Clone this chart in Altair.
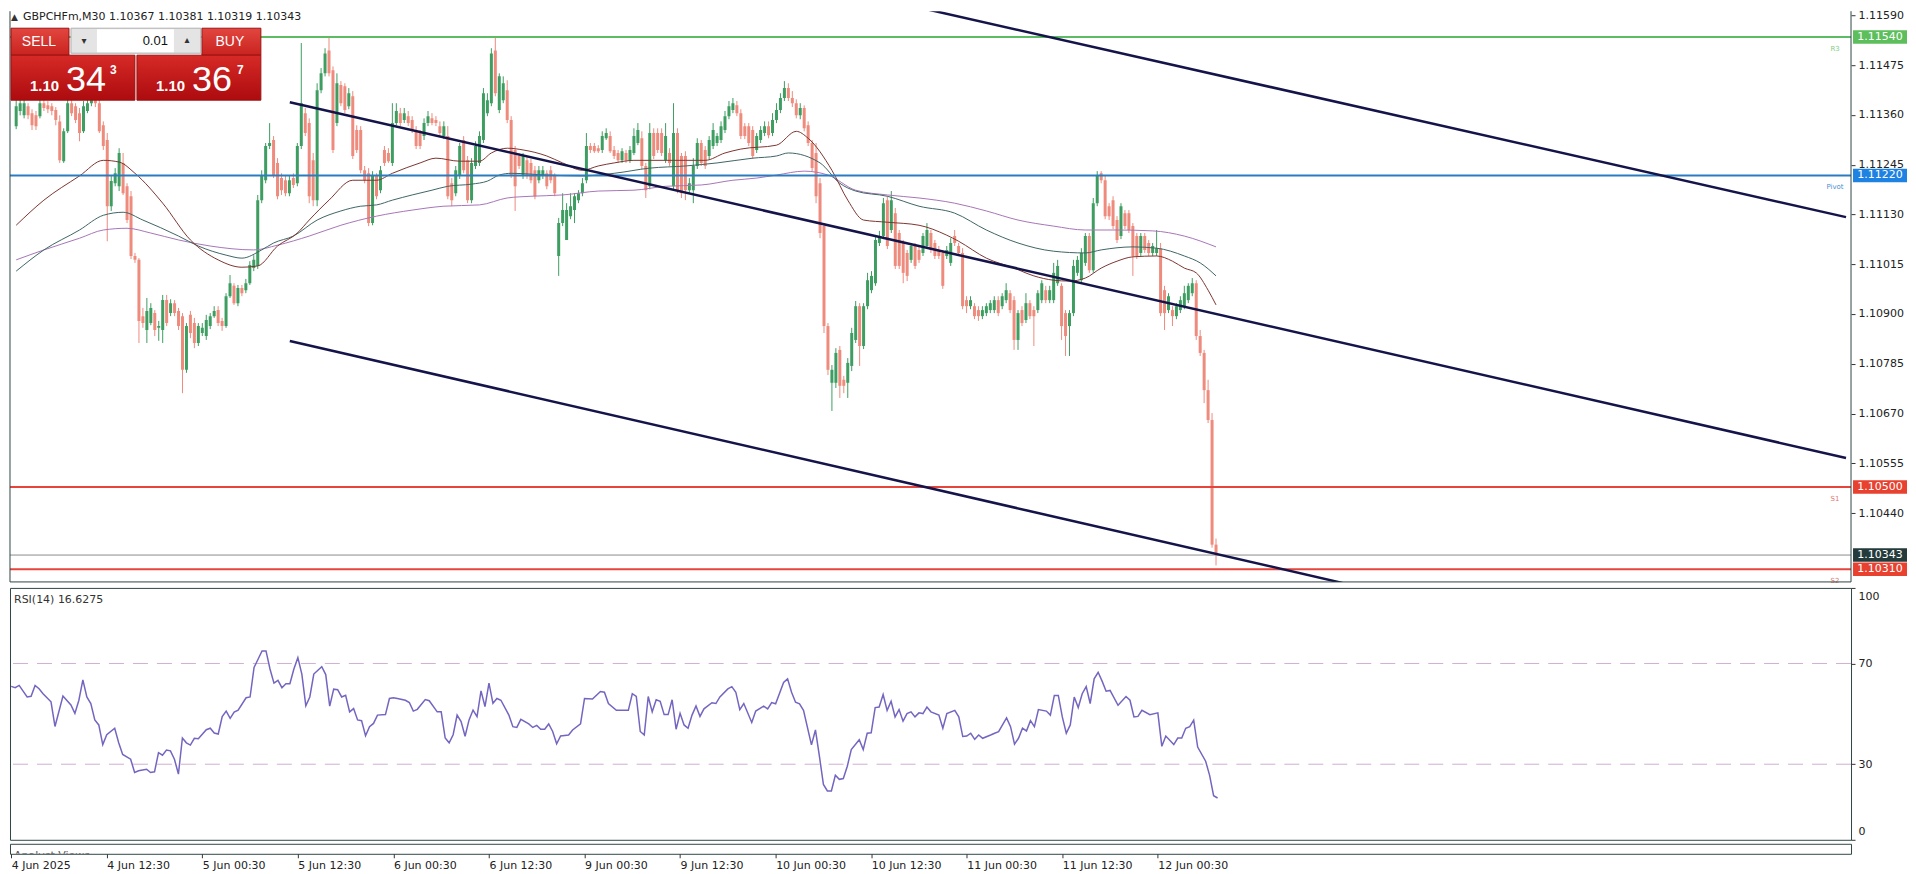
import altair as alt
import pandas as pd

# ---------------- DATA (prices in points, 1 point = 0.00001) ----------------
open_pts = [
    111334, 111369, 111359, 111380, 111364, 111359, 111357, 111387, 111382, 111380,
    111371, 111345, 111253, 111322, 111387, 111380, 111364, 111322, 111369, 111387,
    111406, 111387, 111336, 111302, 111149, 111202, 111195, 111249, 111195, 111172,
    111034, 111025, 110895, 110863, 110879, 110902, 110868, 110863, 110932, 110902,
    110925, 110907, 110895, 110771, 110898, 110879, 110833, 110856, 110849, 110872,
    110895, 110909, 110884, 110872, 110941, 110965, 110925, 110960, 110955, 110971,
    111006, 111011, 111163, 111209, 111288, 111302, 111249, 111214, 111209, 111179,
    111214, 111202, 111288, 111364, 111341, 111255, 111163, 111417, 111456, 111509,
    111463, 111341, 111429, 111426, 111380, 111403, 111325, 111325, 111232, 111225,
    111110, 111219, 111186, 111279, 111272, 111249, 111341, 111364, 111348, 111357,
    111348, 111325, 111318, 111311, 111341, 111352, 111348, 111334, 111311, 111311,
    111202, 111179, 111219, 111302, 111255, 111163, 111242, 111249, 111302, 111364,
    111387, 111509, 111371, 111394, 111417, 111348, 111279, 111265, 111219, 111255,
    111249, 111232, 111209, 111219, 111225, 111232, 111219, 111034, 111110, 111071,
    111126, 111140, 111163, 111179, 111209, 111288, 111288, 111283, 111279, 111306,
    111311, 111279, 111272, 111255, 111272, 111255, 111272, 111295, 111306, 111242,
    111195, 111318, 111318, 111318, 111255, 111272, 111195, 111318, 111265, 111265,
    111186, 111186, 111242, 111295, 111279, 111265, 111288, 111295, 111302, 111325,
    111357, 111371, 111382, 111364, 111334, 111334, 111325, 111279, 111302, 111318,
    111334, 111318, 111348, 111371, 111399, 111422, 111399, 111387, 111359, 111376,
    111336, 111295, 111272, 111202, 111103, 110872, 110741, 110741, 110817, 110748,
    110741, 110780, 110840, 110918, 110826, 110918, 110955, 110971, 111064, 111080,
    111163, 111094, 111133, 111087, 111064, 111041, 111025, 111057, 111048, 111041,
    111057, 111087, 111064, 111048, 111041, 111034, 111018, 111080, 111057, 111041,
    110932, 110918, 110918, 110909, 110895, 110902, 110909, 110909, 110932, 110918,
    110932, 110948, 110932, 110840, 110909, 110886, 110925, 110909, 110909, 110932,
    110955, 110932, 110932, 110971, 110965, 110902, 110872, 110902, 110995, 110978,
    111018, 111080, 111001, 111156, 111225, 111209, 111149, 111163, 111117, 111080,
    111133, 111133, 111103, 111080, 111041, 111080, 111064, 111041, 111041, 111052,
    110955, 110909, 110909, 110895, 110909, 110918, 110932, 110948, 110971, 110849,
    110810, 110724, 110655, 110367,
]
close_pts = [
    111380, 111387, 111387, 111359, 111336, 111334, 111387, 111376, 111373, 111369,
    111348, 111255, 111322, 111387, 111364, 111348, 111318, 111380, 111387, 111406,
    111387, 111322, 111288, 111149, 111207, 111225, 111272, 111179, 111117, 111034,
    111025, 110884, 110879, 110907, 110914, 110863, 110872, 110932, 110879, 110925,
    110902, 110872, 110771, 110872, 110856, 110833, 110872, 110868, 110886, 110895,
    110907, 110879, 110872, 110941, 110971, 110925, 110960, 110948, 110971, 111013,
    111025, 111163, 111219, 111288, 111295, 111219, 111172, 111186, 111179, 111209,
    111198, 111288, 111387, 111318, 111172, 111163, 111417, 111456, 111502, 111456,
    111279, 111433, 111387, 111371, 111410, 111265, 111279, 111232, 111209, 111110,
    111219, 111172, 111232, 111249, 111253, 111341, 111369, 111341, 111364, 111341,
    111325, 111288, 111288, 111341, 111357, 111341, 111341, 111318, 111334, 111172,
    111163, 111232, 111288, 111232, 111163, 111249, 111288, 111311, 111410, 111394,
    111502, 111410, 111449, 111433, 111348, 111219, 111195, 111242, 111265, 111219,
    111209, 111172, 111232, 111232, 111195, 111209, 111179, 111110, 111140, 111140,
    111149, 111172, 111179, 111202, 111288, 111279, 111276, 111276, 111311, 111318,
    111276, 111265, 111255, 111276, 111255, 111279, 111311, 111325, 111242, 111186,
    111318, 111265, 111279, 111272, 111311, 111249, 111318, 111186, 111179, 111186,
    111202, 111242, 111295, 111249, 111242, 111302, 111325, 111311, 111334, 111357,
    111380, 111387, 111364, 111311, 111311, 111295, 111265, 111311, 111325, 111334,
    111313, 111348, 111371, 111399, 111422, 111399, 111387, 111359, 111376, 111329,
    111295, 111237, 111172, 111087, 110872, 110771, 110771, 110810, 110734, 110734,
    110787, 110856, 110918, 110826, 110918, 110978, 110988, 111071, 111080, 111156,
    111057, 111163, 111011, 111011, 110995, 110988, 111057, 111011, 111025, 111080,
    111094, 111048, 111034, 111034, 110965, 111048, 111064, 111064, 111041, 110918,
    110918, 110932, 110895, 110895, 110909, 110918, 110925, 110932, 110902, 110941,
    110955, 110909, 110840, 110902, 110879, 110925, 110895, 110895, 110948, 110971,
    110932, 110955, 110995, 111011, 110872, 110849, 110902, 111011, 111025, 111041,
    111080, 111001, 111156, 111219, 111209, 111126, 111126, 111103, 111071, 111149,
    111103, 111094, 111034, 111034, 111080, 111048, 111041, 111057, 111052, 110902,
    110902, 110941, 110895, 110918, 110932, 110948, 110965, 110971, 110849, 110810,
    110724, 110655, 110367, 110343,
]
high_pts = [
    111399, 111399, 111396, 111387, 111373, 111369, 111396, 111396, 111392, 111387,
    111378, 111359, 111329, 111396, 111396, 111387, 111376, 111392, 111399, 111419,
    111415, 111399, 111345, 111318, 111221, 111237, 111283, 111272, 111202, 111184,
    111041, 111029, 110914, 110937, 110925, 110909, 110884, 110944, 110944, 110934,
    110932, 110914, 110902, 110879, 110907, 110891, 110879, 110879, 110898, 110902,
    110918, 110918, 110891, 110948, 110990, 110971, 110967, 110967, 110981, 111022,
    111036, 111175, 111232, 111295, 111341, 111311, 111260, 111225, 111219, 111219,
    111225, 111295, 111526, 111376, 111352, 111272, 111433, 111468, 111514, 111542,
    111472, 111456, 111438, 111433, 111422, 111415, 111336, 111334, 111242, 111237,
    111230, 111225, 111242, 111288, 111283, 111387, 111387, 111376, 111376, 111369,
    111357, 111334, 111325, 111352, 111369, 111364, 111357, 111345, 111345, 111334,
    111214, 111242, 111295, 111311, 111265, 111260, 111299, 111322, 111422, 111410,
    111514, 111542, 111456, 111449, 111440, 111357, 111288, 111272, 111272, 111265,
    111258, 111242, 111242, 111242, 111232, 111242, 111225, 111122, 111179, 111156,
    111179, 111179, 111186, 111214, 111318, 111295, 111295, 111290, 111322, 111329,
    111322, 111288, 111279, 111283, 111279, 111288, 111329, 111341, 111322, 111249,
    111341, 111329, 111329, 111329, 111341, 111283, 111387, 111329, 111272, 111276,
    111214, 111260, 111306, 111302, 111288, 111311, 111341, 111318, 111345, 111369,
    111392, 111399, 111392, 111373, 111341, 111341, 111334, 111318, 111334, 111345,
    111345, 111364, 111387, 111410, 111438, 111433, 111415, 111396, 111387, 111382,
    111345, 111302, 111295, 111214, 111110, 110879, 110782, 110821, 110826, 110757,
    110798, 110868, 110930, 110925, 110925, 110995, 110999, 111082, 111092, 111168,
    111172, 111184, 111145, 111094, 111071, 111048, 111064, 111064, 111057, 111087,
    111110, 111094, 111071, 111057, 111048, 111057, 111075, 111094, 111064, 111052,
    110941, 110941, 110925, 110918, 110918, 110925, 110932, 110941, 110941, 110948,
    110971, 110955, 110941, 110909, 110918, 110948, 110932, 110918, 110955, 110978,
    110965, 110965, 111018, 111025, 110971, 110909, 110909, 111025, 111034, 111052,
    111087, 111087, 111168, 111230, 111230, 111219, 111156, 111172, 111126, 111156,
    111140, 111140, 111110, 111087, 111087, 111087, 111071, 111064, 111094, 111064,
    110965, 110948, 110918, 110925, 110941, 110965, 110971, 110983, 110978, 110863,
    110817, 110748, 110671, 110381,
]
low_pts = [
    111327, 111359, 111352, 111350, 111325, 111325, 111352, 111369, 111364, 111359,
    111336, 111249, 111249, 111318, 111357, 111341, 111299, 111318, 111364, 111380,
    111378, 111318, 111279, 111068, 111138, 111195, 111184, 111175, 111110, 111027,
    111018, 110833, 110868, 110833, 110874, 110849, 110838, 110833, 110872, 110895,
    110895, 110863, 110717, 110764, 110844, 110821, 110826, 110849, 110840, 110865,
    110891, 110872, 110861, 110868, 110937, 110921, 110918, 110941, 110948, 110967,
    110999, 111004, 111156, 111202, 111281, 111214, 111165, 111175, 111172, 111172,
    111191, 111195, 111281, 111311, 111156, 111149, 111149, 111410, 111449, 111449,
    111272, 111334, 111380, 111364, 111373, 111258, 111272, 111225, 111202, 111103,
    111105, 111165, 111179, 111242, 111249, 111242, 111336, 111334, 111341, 111334,
    111318, 111281, 111281, 111302, 111334, 111336, 111334, 111311, 111304, 111165,
    111149, 111172, 111212, 111225, 111156, 111156, 111235, 111242, 111295, 111357,
    111380, 111403, 111364, 111387, 111341, 111214, 111138, 111235, 111212, 111212,
    111202, 111165, 111202, 111212, 111188, 111202, 111172, 110988, 111103, 111071,
    111119, 111110, 111156, 111172, 111202, 111272, 111272, 111272, 111272, 111302,
    111272, 111258, 111249, 111249, 111249, 111249, 111267, 111290, 111235, 111168,
    111188, 111258, 111272, 111265, 111249, 111242, 111188, 111179, 111168, 111163,
    111179, 111156, 111235, 111242, 111235, 111258, 111281, 111288, 111295, 111318,
    111350, 111364, 111357, 111304, 111304, 111288, 111258, 111272, 111295, 111311,
    111306, 111311, 111341, 111364, 111392, 111392, 111378, 111352, 111350, 111322,
    111288, 111230, 111156, 111075, 110856, 110759, 110676, 110729, 110706, 110717,
    110706, 110768, 110833, 110780, 110819, 110911, 110948, 110965, 111057, 111073,
    111050, 111087, 111004, 111004, 110971, 110976, 111018, 111004, 111018, 111034,
    111050, 111041, 111027, 111027, 110958, 111027, 111011, 111057, 111034, 110911,
    110902, 110911, 110888, 110884, 110888, 110895, 110902, 110902, 110895, 110911,
    110925, 110902, 110817, 110817, 110872, 110879, 110888, 110826, 110902, 110925,
    110925, 110925, 110925, 110965, 110840, 110803, 110803, 110895, 110988, 110971,
    111011, 110995, 110995, 111149, 111202, 111119, 111117, 111096, 111064, 111073,
    111096, 111087, 110988, 111027, 111034, 111041, 111034, 111034, 111034, 110895,
    110863, 110902, 110872, 110888, 110902, 110911, 110925, 110941, 110840, 110803,
    110694, 110648, 110360, 110319,
]

# moving averages (bar index, value in points)
ma_fast_bar = [0, 7, 16, 22, 26, 30, 37, 44, 51, 57, 61, 66, 71, 74, 79, 85, 91, 95, 102, 106,
               112, 117, 120, 124, 128, 134, 138, 143, 147, 151, 156, 169, 174, 179, 183, 192, 197, 200, 206, 210,
               214, 220, 228, 235, 238, 245, 252, 257, 262, 266, 270, 274, 278, 282, 288, 292, 295, 298, 301, 303]
ma_fast_pts = [111105, 111163, 111219, 111255, 111251, 111225, 111156, 111071, 111025, 111008,
               111011, 111057, 111087, 111117, 111163, 111209, 111209, 111225, 111249, 111260,
               111253, 111253, 111272, 111283, 111279, 111265, 111249, 111232, 111242, 111249,
               111255, 111255, 111255, 111272, 111281, 111290, 111322, 111306, 111232, 111163,
               111117, 111112, 111105, 111082, 111068, 111029, 111006, 110988, 110978, 110976,
               110983, 111006, 111022, 111032, 111034, 111022, 111006, 110995, 110955, 110921]
ma_mid_bar = [0, 7, 16, 22, 27, 32, 41, 46, 53, 57, 62, 65, 70, 76, 82, 87, 91, 95, 100, 105,
              109, 115, 119, 122, 125, 134, 143, 151, 160, 169, 177, 186, 192, 195, 203, 208, 212, 220, 228, 237,
              245, 253, 262, 270, 274, 282, 288, 295, 299, 303]
ma_mid_pts = [110999, 111048, 111094, 111128, 111135, 111117, 111080, 111057, 111036, 111029,
              111048, 111064, 111080, 111117, 111138, 111149, 111152, 111163, 111175, 111186,
              111195, 111200, 111207, 111221, 111225, 111221, 111219, 111225, 111237, 111242,
              111249, 111260, 111265, 111272, 111249, 111202, 111184, 111172, 111149, 111133,
              111094, 111064, 111045, 111041, 111048, 111055, 111052, 111034, 111018, 110988]
ma_slow_bar = [0, 7, 16, 22, 28, 34, 41, 49, 60, 66, 74, 82, 91, 100, 108, 117, 124, 130, 138, 147,
               156, 164, 173, 181, 187, 192, 199, 205, 212, 220, 228, 237, 245, 253, 262, 270, 278, 287, 295, 303]
ma_slow_pts = [111025, 111048, 111075, 111094, 111098, 111087, 111071, 111057, 111048, 111059,
               111080, 111105, 111126, 111140, 111149, 111152, 111168, 111172, 111175, 111184,
               111186, 111195, 111198, 111209, 111214, 111221, 111230, 111221, 111186, 111175,
               111168, 111156, 111138, 111117, 111103, 111094, 111094, 111092, 111080, 111055]

# RSI(14) readings (bar index, value)
rsi_bar = [0, 1, 2, 4, 5, 6, 7, 8, 10, 11,
           13, 15, 16, 17, 18, 19, 20, 21, 22, 23,
           24, 26, 27, 28, 30, 31, 32, 34, 35, 36,
           37, 38, 39, 40, 41, 42, 43, 44, 45, 46,
           47, 49, 50, 51, 52, 53, 54, 55, 56, 57,
           59, 60, 61, 62, 63, 64, 65, 66, 67, 68,
           69, 70, 71, 72, 73, 74, 75, 76, 78, 79,
           80, 81, 82, 83, 84, 85, 86, 87, 88, 89,
           90, 91, 92, 94, 95, 96, 97, 99, 100, 101,
           102, 104, 105, 107, 108, 109, 110, 111, 112, 113,
           114, 115, 116, 117, 118, 119, 120, 121, 122, 123,
           125, 126, 127, 128, 130, 131, 132, 133, 134, 135,
           136, 137, 138, 140, 141, 143, 144, 146, 148, 149,
           150, 152, 153, 155, 156, 157, 158, 159, 160, 161,
           162, 163, 164, 165, 166, 167, 168, 169, 170, 171,
           172, 173, 174, 176, 177, 178, 180, 181, 182, 183,
           184, 186, 187, 189, 190, 191, 192, 194, 195, 196,
           197, 198, 199, 201, 202, 203, 204, 205, 206, 207,
           208, 209, 210, 211, 213, 214, 215, 216, 217, 218,
           219, 220, 221, 222, 223, 224, 225, 226, 227, 228,
           229, 230, 231, 233, 234, 235, 237, 238, 239, 240,
           241, 242, 243, 244, 246, 247, 248, 250, 251, 252,
           253, 254, 255, 256, 257, 258, 260, 261, 262, 263,
           264, 265, 266, 267, 268, 269, 270, 271, 272, 273,
           274, 275, 276, 278, 280, 281, 282, 283, 284, 286,
           288, 289, 290, 292, 293, 294, 295, 296, 297, 298,
           300, 301, 302, 303]
rsi_val = [60.9, 60.4, 61.3, 56.7, 57.0, 61.3, 60.0, 58.0, 54.8, 45.0,
           57.1, 53.5, 50.2, 55.4, 63.5, 56.7, 54.1, 47.6, 45.6, 37.8,
           41.7, 44.3, 38.5, 33.9, 32.0, 26.7, 27.4, 28.0, 26.7, 27.0,
           34.6, 33.6, 35.6, 35.3, 32.0, 26.1, 40.4, 38.5, 37.6, 40.3,
           40.1, 43.7, 44.3, 42.4, 42.0, 48.9, 51.1, 48.2, 50.7, 51.5,
           56.4, 56.7, 68.4, 71.7, 75.0, 75.0, 67.8, 62.2, 63.3, 60.4,
           62.0, 62.0, 67.8, 72.3, 65.8, 53.2, 56.7, 65.8, 68.7, 65.6,
           53.1, 59.8, 59.6, 56.7, 57.4, 50.8, 52.1, 47.6, 47.3, 41.3,
           44.9, 46.2, 49.5, 49.7, 56.1, 56.4, 56.1, 55.4, 54.5, 51.1,
           51.8, 55.7, 55.2, 50.8, 50.8, 40.4, 38.5, 41.7, 49.5, 46.9,
           41.1, 47.6, 51.5, 48.9, 59.1, 52.9, 62.2, 54.2, 56.1, 55.4,
           49.5, 44.9, 44.6, 47.8, 46.0, 44.6, 45.4, 43.9, 43.9, 46.0,
           43.0, 38.1, 41.2, 41.6, 43.6, 46.0, 56.1, 55.9, 58.9, 58.6,
           54.1, 51.4, 51.4, 51.4, 58.0, 56.9, 43.0, 41.6, 56.9, 50.8,
           55.6, 55.0, 49.7, 49.7, 55.6, 43.9, 50.2, 45.6, 44.3, 49.5,
           53.1, 49.0, 52.0, 54.4, 54.1, 56.7, 59.9, 60.8, 58.6, 51.7,
           54.1, 46.6, 51.1, 53.1, 52.0, 54.5, 54.0, 62.5, 63.9, 58.6,
           54.6, 54.0, 51.4, 37.7, 43.6, 33.1, 22.0, 19.4, 19.4, 25.6,
           24.0, 24.3, 29.2, 35.8, 39.7, 35.8, 42.3, 42.5, 52.5, 52.7,
           57.7, 51.4, 55.0, 48.8, 51.7, 47.1, 50.1, 50.8, 48.8, 50.4,
           50.1, 52.7, 50.8, 49.5, 44.3, 50.1, 51.4, 48.8, 41.0, 41.2,
           42.3, 39.9, 41.6, 40.3, 41.6, 42.3, 42.9, 48.4, 44.9, 38.0,
           40.3, 44.3, 43.2, 47.3, 44.9, 51.7, 51.1, 49.5, 57.3, 57.3,
           48.8, 42.3, 45.6, 56.7, 52.5, 58.0, 60.8, 54.1, 63.9, 66.5,
           63.0, 59.0, 59.3, 53.4, 56.9, 55.4, 48.8, 49.0, 51.4, 49.7,
           50.4, 37.1, 41.2, 37.8, 40.4, 40.4, 44.3, 44.9, 47.5, 36.8,
           31.2, 25.6, 17.5, 16.6]
rsi_levels = [70, 30]

# pivot levels
level_names = ["R3", "Pivot", "S1", "S2"]
level_prices = [1.11540, 1.11220, 1.10500, 1.10310]
last_price = 1.10343

# trend channel lines (bar index, price)
trend_id = ["upper", "upper", "middle", "middle", "lower", "lower"]
trend_bar = [227.6, 462.1, 69.1, 462.1, 69.1, 334.9]
trend_price = [1.116088, 1.111238, 1.113894, 1.105673, 1.108375, 1.102786]

price_ticks = [1.11590, 1.11475, 1.11360, 1.11245, 1.11130, 1.11015,
               1.10900, 1.10785, 1.10670, 1.10555, 1.10440]
tick_bars = [0, 24, 48, 72, 96, 120, 144, 168, 192, 216, 240, 264, 288]
tick_labels = ["4 Jun 2025", "4 Jun 12:30", "5 Jun 00:30", "5 Jun 12:30", "6 Jun 00:30",
               "6 Jun 12:30", "9 Jun 00:30", "9 Jun 12:30", "10 Jun 00:30", "10 Jun 12:30",
               "11 Jun 00:30", "11 Jun 12:30", "12 Jun 00:30"]

# ---------------- STYLE / LAYOUT ----------------
FONT = "DejaVu Sans"
W = 1842
H_MAIN, H_RSI, H_MINI = 571, 252, 10
XS = alt.Scale(domain=[-0.3, 462.1], nice=False, zero=False)
PS = alt.Scale(domain=[1.102809, 1.115995], nice=False, zero=False)
RS = alt.Scale(domain=[0, 100], nice=False, zero=False)
GREEN, RED = "#3e9e61", "#ee8b7d"
FRAME = "#2f4545"

PAX = alt.Axis(orient="right", values=price_ticks, format=".5f", title=None, grid=False,
               domain=False, tickSize=4, tickColor="#333333", labelPadding=3,
               labelFont=FONT, labelFontSize=11, labelColor="#222222", labelOverlap=False)
RAX = alt.Axis(orient="right", values=[0, 30, 70, 100], title=None, grid=False, domain=False,
               tickSize=4, tickColor="#333333", labelPadding=3, labelFont=FONT, labelFontSize=11,
               labelColor="#222222", labelFlush=True, labelFlushOffset=-3, labelOverlap=False)
label_expr = " : ".join(f"datum.value == {b} ? '{t}'" for b, t in zip(tick_bars, tick_labels)) + " : ''"
XAX = alt.Axis(values=tick_bars, labelExpr=label_expr, title=None, grid=False, domain=False,
               tickSize=4, tickColor="#333333", labelAlign="left", labelPadding=2, labelFont=FONT,
               labelFontSize=11, labelColor="#222222", labelOverlap=False, labelFlush=False)


def px(f):
    return alt.X(f"{f}:Q", scale=XS, axis=None)


def py(f):
    return alt.Y(f"{f}:Q", scale=PS, axis=PAX)


dummy = pd.DataFrame({"k": [0]})


def ui_rect(x0, x1, y0, y1, **kw):
    return alt.Chart(dummy).mark_rect(**kw).encode(
        x=alt.value(x0), x2=alt.value(x1), y=alt.value(y0), y2=alt.value(y1))


def ui_text(x, y, s, **kw):
    return alt.Chart(dummy).mark_text(text=s, **kw).encode(x=alt.value(x), y=alt.value(y))


# ---------------- MAIN PRICE PANEL ----------------
candles = pd.DataFrame({
    "bar": list(range(len(close_pts))),
    "open": [v / 1e5 for v in open_pts],
    "high": [v / 1e5 for v in high_pts],
    "low": [v / 1e5 for v in low_pts],
    "close": [v / 1e5 for v in close_pts],
})
up = candles[candles["close"] >= candles["open"]]
down = candles[candles["close"] < candles["open"]]

layers = []
for d, col in ((up, GREEN), (down, RED)):
    layers.append(alt.Chart(d).mark_rule(strokeWidth=1, color=col, clip=True).encode(
        x=px("bar"), y=py("low"), y2="high:Q"))
    layers.append(alt.Chart(d).mark_bar(size=3, color=col, clip=True).encode(
        x=px("bar"), y=py("open"), y2="close:Q"))

for bars, pts, col in ((ma_slow_bar, ma_slow_pts, "#a775b8"),
                       (ma_mid_bar, ma_mid_pts, "#3f6464"),
                       (ma_fast_bar, ma_fast_pts, "#7d3530")):
    d = pd.DataFrame({"bar": bars, "price": [v / 1e5 for v in pts]})
    layers.append(alt.Chart(d).mark_line(strokeWidth=1, color=col, interpolate="monotone",
                                         clip=True).encode(x=px("bar"), y=py("price")))

level_colors = {"R3": "#5dbb63", "Pivot": "#2a7cc0", "S1": "#e5453a", "S2": "#e5453a"}
tag_colors = {"R3": "#7fcf85", "Pivot": "#4a90d0", "S1": "#e07a70", "S2": "#e07a70"}
for name, price in zip(level_names, level_prices):
    d = pd.DataFrame({"price": [price], "name": [name]})
    layers.append(alt.Chart(d).mark_rule(strokeWidth=2, color=level_colors[name]).encode(y=py("price")))
    layers.append(alt.Chart(d).mark_text(fontSize=7, font=FONT, dy=12, color=tag_colors[name]).encode(
        x=alt.value(1826), y=py("price"), text="name:N"))

layers.append(alt.Chart(pd.DataFrame({"price": [last_price]})).mark_rule(
    strokeWidth=1, color="#8c8c8c").encode(y=py("price")))

trend = pd.DataFrame({"id": trend_id, "bar": trend_bar, "price": trend_price})
layers.append(alt.Chart(trend).mark_line(strokeWidth=2.5, color="#14144a", clip=True).encode(
    x=px("bar"), y=py("price"), detail="id:N"))

# panel frame (left, right, bottom; no top edge)
layers.append(alt.Chart(dummy).mark_rule(color=FRAME, strokeWidth=1).encode(x=alt.value(0)))
layers.append(alt.Chart(dummy).mark_rule(color=FRAME, strokeWidth=1).encode(x=alt.value(W)))
layers.append(alt.Chart(dummy).mark_rule(color=FRAME, strokeWidth=1).encode(y=alt.value(H_MAIN)))

# price tags on the right axis
box_prices = [1.11540, 1.11220, 1.10500, last_price, 1.10310]
box_colors = ["#5cbf5c", "#1d82e2", "#e8412f", "#253b3b", "#e8412f"]
BOX = "M-1,-0.25L1,-0.25L1,0.25L-1,0.25Z"
for p, col in zip(box_prices, box_colors):
    d = pd.DataFrame({"price": [p]})
    layers.append(alt.Chart(d).mark_point(shape=BOX, size=2916, filled=True, opacity=1,
                                          strokeWidth=0, color=col).encode(
        x=alt.value(1871), y=py("price")))
    layers.append(alt.Chart(d).mark_text(font=FONT, fontSize=11, color="white").encode(
        x=alt.value(1871), y=py("price"), text=alt.Text("price:Q", format=".5f")))

# one-click trading panel
btn_grad = alt.LinearGradient(gradient="linear", x1=0, x2=0, y1=0, y2=1,
                              stops=[alt.GradientStop(color="#e2463f", offset=0),
                                     alt.GradientStop(color="#c9231f", offset=1)])
big_grad = alt.LinearGradient(gradient="linear", x1=0, x2=0, y1=0, y2=1,
                              stops=[alt.GradientStop(color="#d62a26", offset=0),
                                     alt.GradientStop(color="#ad0b0f", offset=1)])
layers += [
    ui_rect(1, 59, 17, 44, color=btn_grad, stroke="#9a1212", strokeWidth=1),
    ui_rect(192, 251, 17, 44, color=btn_grad, stroke="#9a1212", strokeWidth=1),
    ui_rect(61, 191, 17, 42, color="#e4e4e4", stroke="#b0b0b0", strokeWidth=1),
    ui_rect(87, 164, 18, 41, color="#ffffff"),
    ui_rect(1, 125, 44, 89, color=big_grad, stroke="#9a1212", strokeWidth=1),
    ui_rect(127, 251, 44, 89, color=big_grad, stroke="#9a1212", strokeWidth=1),
    ui_text(29, 31, "SELL", font="Liberation Sans", fontSize=14, color="white"),
    ui_text(220, 31, "BUY", font="Liberation Sans", fontSize=14, color="white"),
    ui_text(74, 30, "▾", font=FONT, fontSize=10, color="#333333"),
    ui_text(177, 29, "▴", font=FONT, fontSize=10, color="#333333"),
    ui_text(158, 30, "0.01", font="Liberation Sans", fontSize=13, color="#111111", align="right"),
    ui_text(20, 80, "1.10", font="Liberation Sans", fontSize=15, fontWeight="bold", color="white",
            align="left", baseline="alphabetic"),
    ui_text(56, 80, "34", font="Liberation Sans", fontSize=36, color="white", align="left",
            baseline="alphabetic"),
    ui_text(100, 63, "3", font="Liberation Sans", fontSize=12, fontWeight="bold", color="white",
            align="left", baseline="alphabetic"),
    ui_text(146, 80, "1.10", font="Liberation Sans", fontSize=15, fontWeight="bold", color="white",
            align="left", baseline="alphabetic"),
    ui_text(182, 80, "36", font="Liberation Sans", fontSize=36, color="white", align="left",
            baseline="alphabetic"),
    ui_text(227, 63, "7", font="Liberation Sans", fontSize=12, fontWeight="bold", color="white",
            align="left", baseline="alphabetic"),
    ui_text(1, 9, "▲", font=FONT, fontSize=9, color="#333333", align="left", baseline="alphabetic"),
    ui_text(13, 9, "GBPCHFm,M30  1.10367 1.10381 1.10319 1.10343", font=FONT, fontSize=11,
            color="#222222", align="left", baseline="alphabetic"),
]

main = alt.layer(*layers).properties(width=W, height=H_MAIN,
                                     view=alt.ViewBackground(stroke="transparent"))

# ---------------- RSI PANEL ----------------
rsi_df = pd.DataFrame({"bar": rsi_bar, "rsi": rsi_val})
rsi_lv = alt.Chart(pd.DataFrame({"lvl": rsi_levels})).mark_rule(
    color="#cfb0d2", strokeDash=[15, 9], strokeWidth=1).encode(
    y=alt.Y("lvl:Q", scale=RS, axis=RAX))
rsi_line = alt.Chart(rsi_df).mark_line(color="#7466c0", strokeWidth=1.5, clip=True).encode(
    x=alt.X("bar:Q", scale=XS, axis=None), y=alt.Y("rsi:Q", scale=RS, axis=RAX))
rsi_title = ui_text(4, 12, "RSI(14) 16.6275", font=FONT, fontSize=11, color="#333333", align="left")
rsi = alt.layer(rsi_lv, rsi_line, rsi_title).properties(width=W, height=H_RSI)

# ---------------- MINI PANEL + TIME AXIS ----------------
mini_axis = alt.Chart(pd.DataFrame({"bar": tick_bars})).mark_tick(opacity=0).encode(
    x=alt.X("bar:Q", scale=XS, axis=XAX))
mini_text = ui_text(4, 15, "Analyst Views", font=FONT, fontSize=11, color="#555555",
                    align="left", baseline="alphabetic", clip=True)
mini = alt.layer(mini_axis, mini_text).properties(width=W, height=H_MINI)

chart = alt.vconcat(main, rsi, mini, spacing=2).properties(
    padding=0, background="white"
).configure_view(stroke=FRAME, strokeWidth=1).configure_concat(spacing=2)

chart.save("out.html", embed_options={"renderer": "svg", "actions": False})
